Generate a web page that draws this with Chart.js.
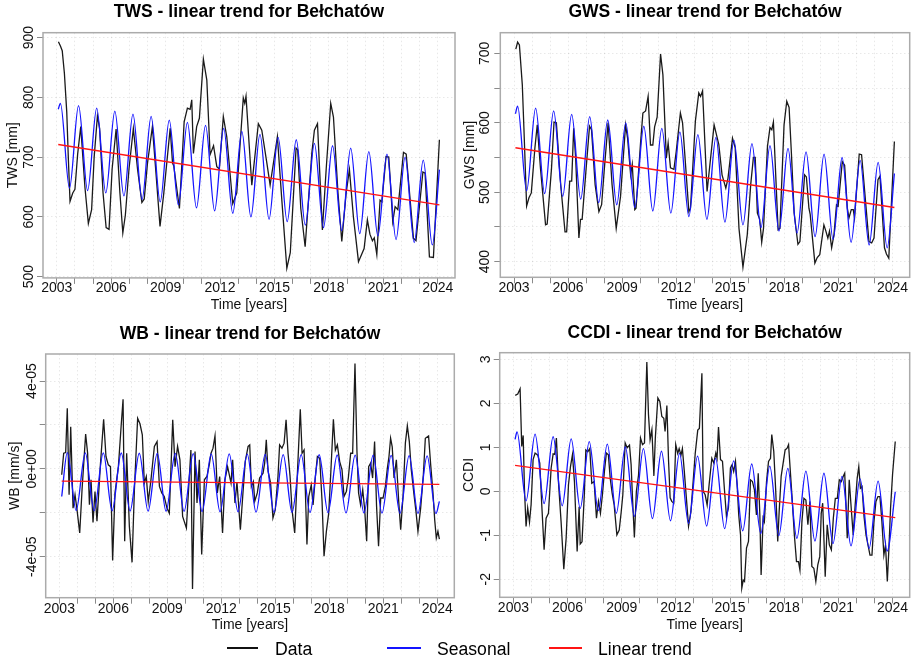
<!DOCTYPE html>
<html lang="en">
<head>
<meta charset="UTF-8">
<title>Linear trends for Bełchatów</title>
<script src="https://cdn.jsdelivr.net/npm/chart.js"></script>
<style>
  body { margin: 0; background: #fff; font-family: "Liberation Sans", Arial, sans-serif; }
  #page { position: relative; width: 916px; height: 664px; overflow: hidden; background: #fff; }
  canvas { position: absolute; }
  /* shared legend under the four panels */
  .key-line { position: absolute; height: 2px; }
  .key-text { position: absolute; font-size: 17.6px; line-height: 20px; color: #000; white-space: nowrap; }
</style>
</head>
<body>
<div id="page">
  <canvas id="tws" width="458" height="320" style="left:0;top:0"></canvas>
  <canvas id="gws" width="458" height="320" style="left:458px;top:0"></canvas>
  <canvas id="wb" width="458" height="320" style="left:0;top:320px"></canvas>
  <canvas id="ccdi" width="458" height="320" style="left:458px;top:320px"></canvas>

  <div class="key-line" style="left:227px;top:647px;width:31px;background:#111"></div>
  <div class="key-text" style="left:275px;top:639px">Data</div>
  <div class="key-line" style="left:387px;top:647px;width:34px;background:#1414ff"></div>
  <div class="key-text" style="left:437px;top:639px">Seasonal</div>
  <div class="key-line" style="left:549px;top:647px;width:33px;background:#ff1414"></div>
  <div class="key-text" style="left:598px;top:639px">Linear trend</div>
</div>

<script>
// x axis: one tick per year, labels every third year
const yearTicks = [2003, 2004, 2005, 2006, 2007, 2008, 2009, 2010, 2011, 2012, 2013,
  2014, 2015, 2016, 2017, 2018, 2019, 2020, 2021, 2022, 2023, 2024];
const labelledYears = [2003, 2006, 2009, 2012, 2015, 2018, 2021, 2024];

// y ticks per panel
const twsTicks = [500, 600, 700, 800, 900];
const twsTickLabels = ['500', '600', '700', '800', '900'];
const gwsTicks = [400, 450, 500, 550, 600, 650, 700];
const gwsTickLabels = ['400', '', '500', '', '600', '', '700'];
const wbTicks = [-4e-5, -2e-5, 0, 2e-5, 4e-5];
const wbTickLabels = ['-4e-05', '', '0e+00', '', '4e-05'];
const ccdiTicks = [-2, -1, 0, 1, 2, 3];
const ccdiTickLabels = ['-2', '-1', '0', '1', '2', '3'];

// TWS [mm] : [decimal year, value]
const twsData = [[2003.09,893],[2003.2,886],[2003.3,878],[2003.42,840],[2003.55,775],[2003.64,695],[2003.73,626],[2003.88,640],[2004.0,646],[2004.15,705],[2004.32,751],[2004.55,650],[2004.74,589],[2004.92,612],[2005.06,700],[2005.24,769],[2005.36,748],[2005.55,640],[2005.72,582],[2005.88,579],[2006.05,680],[2006.27,747],[2006.48,640],[2006.64,573],[2006.78,603],[2006.98,680],[2007.22,748],[2007.45,680],[2007.69,624],[2007.82,630],[2008.0,690],[2008.27,751],[2008.5,660],[2008.69,584],[2008.9,640],[2009.25,748],[2009.38,690],[2009.45,685],[2009.76,614],[2009.88,680],[2010.02,759],[2010.2,782],[2010.35,780],[2010.44,796],[2010.53,706],[2010.71,751],[2010.86,765],[2011.08,864],[2011.27,829],[2011.45,704],[2011.64,719],[2011.82,684],[2011.96,680],[2012.18,768],[2012.37,734],[2012.7,622],[2012.92,640],[2013.28,799],[2013.36,790],[2013.43,802],[2013.75,653],[2014.11,756],[2014.3,745],[2014.58,690],[2014.76,653],[2015.16,734],[2015.4,630],[2015.68,514],[2015.87,540],[2016.19,715],[2016.28,712],[2016.45,614],[2016.69,550],[2017.06,707],[2017.2,745],[2017.37,756],[2017.64,578],[2017.85,680],[2018.1,790],[2018.25,767],[2018.5,640],[2018.71,559],[2018.95,640],[2019.13,679],[2019.35,600],[2019.63,525],[2019.94,547],[2020.12,595],[2020.26,571],[2020.4,560],[2020.5,565],[2020.64,537],[2020.82,628],[2020.92,625],[2021.15,701],[2021.3,700],[2021.52,592],[2021.65,617],[2021.8,612],[2022.11,708],[2022.26,705],[2022.66,564],[2022.8,560],[2023.18,675],[2023.3,673],[2023.54,533],[2023.76,532],[2024.09,729]];
const twsSeasonal = [[2003.08,780],[2003.2,790],[2003.7,648],[2004.2,786],[2004.7,644],[2005.2,782],[2005.7,640],[2006.2,777],[2006.7,635],[2007.2,772],[2007.7,629],[2008.2,768],[2008.7,625],[2009.2,762],[2009.7,620],[2010.2,758],[2010.7,615],[2011.2,753],[2011.7,610],[2012.2,748],[2012.7,606],[2013.2,743],[2013.7,600],[2014.2,738],[2014.7,596],[2015.2,733],[2015.7,592],[2016.2,729],[2016.7,586],[2017.2,723],[2017.7,582],[2018.2,719],[2018.7,577],[2019.2,715],[2019.7,572],[2020.2,709],[2020.7,568],[2021.2,705],[2021.7,562],[2022.2,700],[2022.7,557],[2023.2,695],[2023.7,553],[2024.09,679]];
const twsTrend = [[2003.08,721],[2024.09,620]];

// GWS [mm]
const gwsData = [[2003.1,706],[2003.2,716],[2003.3,712],[2003.46,655],[2003.55,592],[2003.7,480],[2003.83,492],[2003.96,499],[2004.16,564],[2004.29,597],[2004.47,534],[2004.75,453],[2004.84,454],[2005.08,534],[2005.22,601],[2005.35,600],[2005.59,511],[2005.83,443],[2005.92,443],[2006.09,516],[2006.2,516],[2006.31,592],[2006.42,549],[2006.6,434],[2006.69,461],[2006.78,461],[2007.0,534],[2007.19,595],[2007.3,590],[2007.5,511],[2007.71,472],[2007.86,482],[2008.0,530],[2008.22,600],[2008.44,511],[2008.67,448],[2008.91,494],[2009.19,597],[2009.3,578],[2009.47,525],[2009.56,540],[2009.7,475],[2009.77,477],[2010.02,571],[2010.15,614],[2010.3,617],[2010.44,638],[2010.57,568],[2010.7,568],[2010.8,594],[2010.94,608],[2011.13,699],[2011.26,669],[2011.45,549],[2011.55,571],[2011.68,535],[2011.87,533],[2012.0,559],[2012.23,614],[2012.35,600],[2012.7,472],[2012.79,477],[2013.06,602],[2013.25,643],[2013.35,638],[2013.46,646],[2013.71,501],[2014.1,597],[2014.23,583],[2014.36,569],[2014.54,525],[2014.75,506],[2014.87,520],[2015.12,578],[2015.27,564],[2015.48,448],[2015.7,392],[2015.94,439],[2016.13,511],[2016.28,550],[2016.38,550],[2016.5,470],[2016.63,461],[2016.74,428],[2016.84,448],[2017.06,566],[2017.2,593],[2017.3,590],[2017.39,601],[2017.65,446],[2017.75,448],[2017.98,597],[2018.13,631],[2018.26,622],[2018.39,555],[2018.54,470],[2018.75,425],[2018.86,429],[2019.12,525],[2019.22,522],[2019.36,477],[2019.43,468],[2019.69,398],[2019.82,406],[2019.96,410],[2020.19,453],[2020.3,444],[2020.41,434],[2020.5,444],[2020.62,420],[2020.75,439],[2020.89,482],[2020.98,480],[2021.21,544],[2021.34,539],[2021.49,477],[2021.58,463],[2021.71,475],[2021.82,475],[2021.89,463],[2022.15,555],[2022.28,554],[2022.5,487],[2022.69,429],[2022.84,427],[2022.97,434],[2023.19,518],[2023.3,523],[2023.55,420],[2023.66,411],[2023.79,405],[2024.1,573]];
const gwsSeasonal = [[2003.08,613],[2003.2,624],[2003.7,502],[2004.2,621],[2004.7,498],[2005.2,617],[2005.7,494],[2006.2,612],[2006.7,490],[2007.2,609],[2007.7,485],[2008.2,604],[2008.7,482],[2009.2,600],[2009.7,478],[2010.2,595],[2010.7,473],[2011.2,592],[2011.7,470],[2012.2,587],[2012.7,465],[2013.2,583],[2013.7,461],[2014.2,579],[2014.7,457],[2015.2,575],[2015.7,453],[2016.2,570],[2016.7,449],[2017.2,567],[2017.7,444],[2018.2,563],[2018.7,441],[2019.2,558],[2019.7,436],[2020.2,555],[2020.7,432],[2021.2,550],[2021.7,428],[2022.2,546],[2022.7,424],[2023.2,543],[2023.7,420],[2024.1,527]];
const gwsTrend = [[2003.08,564],[2024.1,478]];

// WB [mm/s], values in units of 1e-5
const wbUnit = 1e-5;
const wbData = [[2003.13,-0.27],[2003.24,0.71],[2003.35,0.74],[2003.44,2.76],[2003.54,-1.18],[2003.63,1.92],[2003.76,-1.79],[2003.87,-1.18],[2003.98,-1.86],[2004.13,-2.92],[2004.26,-0.95],[2004.46,1.58],[2004.57,0.71],[2004.67,-1.64],[2004.76,-0.5],[2004.87,-2.44],[2004.98,-1.03],[2005.09,-2.39],[2005.28,0.18],[2005.46,2.26],[2005.59,0.56],[2005.72,0.18],[2005.84,0.1],[2005.96,-4.17],[2006.09,-1.1],[2006.28,0.1],[2006.43,1.92],[2006.54,3.17],[2006.63,-3.3],[2006.74,0.71],[2006.89,-2.62],[2007.04,-4.26],[2007.17,-0.95],[2007.35,2.3],[2007.48,2.05],[2007.61,1.55],[2007.72,-0.65],[2007.83,-0.35],[2007.94,-1.5],[2008.09,-0.5],[2008.28,1.02],[2008.43,1.24],[2008.56,-0.8],[2008.69,-1.1],[2008.83,-1.26],[2008.98,-1.79],[2009.11,-2.02],[2009.3,2.23],[2009.43,0.1],[2009.57,1.02],[2009.7,0.41],[2009.85,-2.17],[2010.06,-2.7],[2010.18,-0.95],[2010.31,0.86],[2010.4,-5.47],[2010.54,0.79],[2010.65,-1.56],[2010.78,0.41],[2010.91,-3.9],[2011.06,-0.5],[2011.2,-0.35],[2011.33,0.18],[2011.43,0.71],[2011.54,0.94],[2011.65,1.5],[2011.78,-1.1],[2011.91,-0.35],[2012.07,-2.92],[2012.2,-0.5],[2012.35,0.1],[2012.54,-0.65],[2012.63,0.41],[2012.76,-1.56],[2012.87,-0.6],[2013.06,-2.77],[2013.19,-1.26],[2013.33,0.33],[2013.49,1.02],[2013.58,1.09],[2013.67,-0.8],[2013.78,-0.58],[2013.86,-1.48],[2014.0,-1.1],[2014.13,-0.42],[2014.32,-0.2],[2014.41,0.26],[2014.5,1.32],[2014.6,-0.12],[2014.74,-0.65],[2014.87,-2.24],[2015.0,-1.86],[2015.15,-0.35],[2015.24,1.09],[2015.37,0.94],[2015.49,1.17],[2015.6,2.23],[2015.71,0.71],[2015.82,-0.32],[2015.93,-1.86],[2016.08,-2.92],[2016.23,-0.2],[2016.39,2.71],[2016.49,0.71],[2016.6,0.86],[2016.67,-0.95],[2016.76,-3.45],[2016.86,-1.26],[2017.0,-0.73],[2017.1,-1.64],[2017.23,-0.35],[2017.34,0.56],[2017.47,0.48],[2017.6,-1.48],[2017.71,-3.98],[2017.84,-2.85],[2017.97,-2.02],[2018.08,-0.27],[2018.23,2.26],[2018.34,0.86],[2018.45,1.09],[2018.58,0.33],[2018.71,-0.05],[2018.82,-1.26],[2018.95,-1.03],[2019.06,-0.42],[2019.19,0.71],[2019.3,0.71],[2019.43,4.8],[2019.54,0.79],[2019.63,-1.1],[2019.74,-1.64],[2019.86,-0.95],[2019.97,-1.86],[2020.08,-3.3],[2020.19,0.1],[2020.3,0.26],[2020.41,-0.42],[2020.52,1.24],[2020.63,-1.71],[2020.74,-3.53],[2020.86,-1.33],[2020.99,-1.33],[2021.12,-0.8],[2021.23,0.03],[2021.32,0.56],[2021.41,1.39],[2021.5,1.0],[2021.6,-0.42],[2021.73,0.41],[2021.86,-1.48],[2021.97,-2.77],[2022.1,-1.26],[2022.23,1.17],[2022.34,1.95],[2022.45,1.24],[2022.56,-0.05],[2022.71,-1.18],[2022.82,-1.94],[2022.93,-2.85],[2023.08,-1.79],[2023.23,-0.27],[2023.34,1.39],[2023.52,1.5],[2023.63,0.26],[2023.76,-1.03],[2023.86,-2.32],[2023.95,-3.15],[2024.04,-2.85],[2024.12,-3.2]];
const wbSeasonal = [[2003.13,-1.26],[2003.44,0.74],[2003.93,-1.9],[2004.44,0.73],[2004.93,-1.91],[2005.44,0.73],[2005.93,-1.91],[2006.44,0.72],[2006.93,-1.92],[2007.44,0.71],[2007.93,-1.93],[2008.44,0.7],[2008.93,-1.93],[2009.44,0.7],[2009.93,-1.94],[2010.44,0.69],[2010.93,-1.95],[2011.44,0.68],[2011.93,-1.96],[2012.44,0.68],[2012.93,-1.96],[2013.44,0.67],[2013.93,-1.97],[2014.44,0.66],[2014.93,-1.98],[2015.44,0.65],[2015.93,-1.98],[2016.44,0.65],[2016.93,-1.99],[2017.44,0.64],[2017.93,-2.0],[2018.44,0.63],[2018.93,-2.01],[2019.44,0.62],[2019.93,-2.01],[2020.44,0.62],[2020.93,-2.02],[2021.44,0.61],[2021.93,-2.03],[2022.44,0.6],[2022.93,-2.03],[2023.44,0.59],[2023.93,-2.04],[2024.12,-1.48]];
const wbTrend = [[2003.13,-0.56],[2024.12,-0.71]];

// CCDI [-]
const ccdiData = [[2003.1,2.18],[2003.24,2.21],[2003.37,2.33],[2003.46,1.02],[2003.54,1.27],[2003.61,0.07],[2003.7,-0.8],[2003.79,-0.38],[2003.89,-0.7],[2003.98,-0.3],[2004.09,0.72],[2004.2,0.87],[2004.35,0.82],[2004.46,0.64],[2004.57,-0.31],[2004.7,-1.33],[2004.81,-0.61],[2004.94,-0.5],[2005.09,0.53],[2005.2,0.85],[2005.29,0.84],[2005.38,1.21],[2005.49,0.24],[2005.64,-0.69],[2005.79,-1.77],[2005.92,-1.07],[2006.05,0.15],[2006.16,0.56],[2006.27,0.83],[2006.38,0.22],[2006.53,-1.37],[2006.64,-0.35],[2006.7,-1.2],[2006.8,-1.15],[2006.93,-0.05],[2007.01,0.94],[2007.12,0.9],[2007.23,0.97],[2007.34,0.18],[2007.47,0.22],[2007.6,-0.61],[2007.71,-0.23],[2007.82,-0.5],[2007.93,-0.08],[2008.04,0.45],[2008.15,0.87],[2008.26,0.83],[2008.36,0.3],[2008.47,-0.05],[2008.58,-0.31],[2008.73,-0.99],[2008.86,-0.88],[2008.97,-0.47],[2009.06,-0.08],[2009.19,1.1],[2009.3,0.99],[2009.43,1.05],[2009.52,0.6],[2009.59,-0.1],[2009.7,-1.05],[2009.81,0.0],[2009.93,0.37],[2010.04,1.21],[2010.15,1.06],[2010.26,1.1],[2010.39,2.94],[2010.48,1.75],[2010.57,1.17],[2010.67,1.4],[2010.78,0.35],[2010.86,1.21],[2011.0,2.12],[2011.11,2.04],[2011.22,1.7],[2011.33,1.66],[2011.4,1.36],[2011.5,1.95],[2011.59,0.72],[2011.68,-0.15],[2011.77,-0.23],[2011.88,-0.27],[2011.99,1.06],[2012.1,0.86],[2012.18,0.97],[2012.28,0.82],[2012.36,0.97],[2012.46,0.48],[2012.7,-0.79],[2012.83,-0.47],[2013.07,0.86],[2013.21,1.39],[2013.3,1.43],[2013.44,2.68],[2013.51,0.0],[2013.62,-0.08],[2013.73,-0.31],[2013.84,0.15],[2013.99,0.75],[2014.1,0.64],[2014.21,0.87],[2014.28,0.75],[2014.36,1.46],[2014.47,0.72],[2014.58,0.68],[2014.69,0.03],[2014.8,-0.57],[2014.91,-0.38],[2015.02,0.53],[2015.11,0.6],[2015.2,0.45],[2015.3,0.68],[2015.39,0.15],[2015.48,-0.54],[2015.58,-0.99],[2015.65,-2.2],[2015.73,-2.02],[2015.8,-2.05],[2015.91,-1.29],[2016.02,-1.14],[2016.13,0.26],[2016.24,0.22],[2016.35,0.03],[2016.46,-0.54],[2016.56,0.41],[2016.65,-0.54],[2016.72,-1.9],[2016.83,-0.61],[2016.9,-0.69],[2017.02,0.22],[2017.13,0.68],[2017.24,0.75],[2017.31,1.29],[2017.42,0.91],[2017.53,0.0],[2017.64,-1.14],[2017.72,-0.46],[2017.83,0.34],[2017.94,0.64],[2018.05,0.94],[2018.16,0.98],[2018.24,1.06],[2018.35,0.38],[2018.46,-0.3],[2018.56,-0.99],[2018.68,-1.6],[2018.79,-1.6],[2018.87,-1.79],[2018.98,-0.69],[2019.09,-0.16],[2019.2,-0.2],[2019.31,-0.76],[2019.42,-0.23],[2019.53,-1.71],[2019.64,-1.75],[2019.75,-2.05],[2019.86,-1.67],[2019.97,-1.48],[2020.05,-0.5],[2020.13,-0.27],[2020.2,-1.1],[2020.27,-1.94],[2020.38,-0.76],[2020.5,-1.22],[2020.61,-1.33],[2020.72,-0.61],[2020.83,-0.16],[2020.94,-0.16],[2021.05,0.26],[2021.16,0.22],[2021.27,0.34],[2021.35,0.41],[2021.41,-0.2],[2021.49,-1.07],[2021.6,0.26],[2021.71,-0.38],[2021.82,-0.99],[2021.93,-0.31],[2022.04,0.29],[2022.13,0.56],[2022.22,0.07],[2022.31,0.11],[2022.42,-0.57],[2022.53,-0.99],[2022.64,-1.22],[2022.75,-1.45],[2022.86,-1.45],[2022.97,-0.69],[2023.08,-0.23],[2023.19,-0.12],[2023.3,-0.12],[2023.41,-0.69],[2023.52,-1.45],[2023.61,-1.22],[2023.71,-2.05],[2023.8,-1.29],[2023.89,-0.38],[2024.0,0.38],[2024.15,1.13]];
const ccdiSeasonal = [[2003.09,1.18],[2003.2,1.35],[2003.7,-0.22],[2004.2,1.3],[2004.7,-0.28],[2005.2,1.24],[2005.7,-0.33],[2006.2,1.19],[2006.7,-0.39],[2007.2,1.13],[2007.7,-0.44],[2008.2,1.07],[2008.7,-0.5],[2009.2,1.01],[2009.7,-0.57],[2010.2,0.97],[2010.7,-0.62],[2011.2,0.91],[2011.7,-0.67],[2012.2,0.86],[2012.7,-0.73],[2013.2,0.8],[2013.7,-0.79],[2014.2,0.75],[2014.7,-0.85],[2015.2,0.69],[2015.7,-0.9],[2016.2,0.62],[2016.7,-0.96],[2017.2,0.57],[2017.7,-1.01],[2018.2,0.52],[2018.7,-1.07],[2019.2,0.46],[2019.7,-1.13],[2020.2,0.41],[2020.7,-1.19],[2021.2,0.34],[2021.7,-1.24],[2022.2,0.28],[2022.7,-1.3],[2023.2,0.23],[2023.7,-1.36],[2024.15,-0.01]];
const ccdiTrend = [[2003.09,0.59],[2024.15,-0.6]];

Chart.defaults.font.family = "'Liberation Sans', Arial, Helvetica, sans-serif";
const ink = '#111111';

// grey frame round the plotting region
const plotBox = {
  id: 'plotBox',
  afterDatasetsDraw(chart) {
    const { ctx, chartArea: a } = chart;
    ctx.save();
    ctx.strokeStyle = '#ababab';
    ctx.lineWidth = 1.5;
    ctx.strokeRect(a.left, a.top, a.right - a.left, a.bottom - a.top);
    ctx.restore();
  }
};

function pts(pairs, k) {
  return pairs.map(p => ({ x: p[0], y: p[1] * k }));
}

function gridOpts() {
  return { color: 'rgba(0,0,0,0.09)', lineWidth: 1, tickLength: 6, tickColor: '#8a8a8a', tickWidth: 1, tickBorderDash: [] };
}

function drawPanel(id, p) {
  const k = p.k || 1;
  new Chart(document.getElementById(id), {
    type: 'line',
    data: {
      datasets: [
        { label: 'Linear trend', data: pts(p.trend, k), borderColor: '#ff1414', borderWidth: 1.4, pointRadius: 0 },
        { label: 'Seasonal', data: pts(p.seasonal, k), borderColor: '#1414ff', borderWidth: 1.3, pointRadius: 0, cubicInterpolationMode: 'monotone' },
        { label: 'Data', data: pts(p.data, k), borderColor: '#1a1a1a', borderWidth: 1.3, pointRadius: 0 }
      ]
    },
    options: {
      responsive: false,
      animation: false,
      devicePixelRatio: 1,
      events: [],
      layout: { padding: { left: 0, top: 0, bottom: 0, right: p.padRight } },
      plugins: {
        legend: { display: false },
        tooltip: { enabled: false },
        title: {
          display: true, text: p.title, fullSize: false, color: '#000',
          font: { size: 17.5, weight: 'bold' },
          padding: { top: p.titleTop, bottom: p.titleBottom }
        }
      },
      scales: {
        x: {
          type: 'linear', min: 2002.24, max: 2024.95, bounds: 'data',
          afterBuildTicks: s => { s.ticks = yearTicks.map(v => ({ value: v })); },
          afterFit: s => { s.height = p.xHeight; },
          ticks: {
            autoSkip: false, minRotation: 0, maxRotation: 0, padding: p.xTickPad,
            color: ink, font: { size: 14 },
            callback: v => labelledYears.includes(v) ? String(v) : ''
          },
          grid: gridOpts(),
          border: { display: false, dash: [1.5, 2.5] },
          title: { display: true, text: 'Time [years]', color: ink, font: { size: 14 }, padding: { top: 0, bottom: 6.6 } }
        },
        y: {
          type: 'linear', min: p.yMin, max: p.yMax, bounds: 'data',
          afterBuildTicks: s => { s.ticks = p.yTicks.map(v => ({ value: v })); },
          afterFit: s => { s.width = p.yWidth; },
          ticks: {
            autoSkip: false, minRotation: 90, maxRotation: 90, crossAlign: 'center',
            padding: p.yTickPad, color: ink, font: { size: 14 },
            callback: (v, i) => p.yLabels[i]
          },
          grid: gridOpts(),
          border: { display: false, dash: [1.5, 2.5] },
          title: { display: true, text: p.yTitle, color: ink, font: { size: 14 }, padding: { top: p.yTitlePad, bottom: 0 } }
        }
      }
    },
    plugins: [plotBox]
  });
}

drawPanel('tws', {
  title: 'TWS - linear trend for Bełchatów', yTitle: 'TWS [mm]',
  data: twsData, seasonal: twsSeasonal, trend: twsTrend,
  yMin: 497.8, yMax: 908.2, yTicks: twsTicks, yLabels: twsTickLabels,
  padRight: 3, yWidth: 43, titleTop: 1.8, titleBottom: 9.9, xHeight: 42.1,
  xTickPad: -4.0, yTickPad: -4.2, yTitlePad: 4.3
});

drawPanel('gws', {
  title: 'GWS - linear trend for Bełchatów', yTitle: 'GWS [mm]',
  data: gwsData, seasonal: gwsSeasonal, trend: gwsTrend,
  yMin: 377.5, yMax: 729.7, yTicks: gwsTicks, yLabels: gwsTickLabels,
  padRight: 6.3, yWidth: 42.3, titleTop: 1.8, titleBottom: 9.9, xHeight: 42.7,
  xTickPad: -3.4, yTickPad: -2.9, yTitlePad: 3.3
});

drawPanel('wb', {
  title: 'WB - linear trend for Bełchatów', yTitle: 'WB [mm/s]', k: wbUnit,
  data: wbData, seasonal: wbSeasonal, trend: wbTrend,
  yMin: -5.87e-5, yMax: 5.23e-5, yTicks: wbTicks, yLabels: wbTickLabels,
  padRight: 3.7, yWidth: 45.7, titleTop: 3.5, titleBottom: 9.5, xHeight: 42.3,
  xTickPad: -2.8, yTickPad: -12.2, yTitlePad: 6.6
});

drawPanel('ccdi', {
  title: 'CCDI - linear trend for Bełchatów', yTitle: 'CCDI',
  data: ccdiData, seasonal: ccdiSeasonal, trend: ccdiTrend,
  yMin: -2.41, yMax: 3.15, yTicks: ccdiTicks, yLabels: ccdiTickLabels,
  padRight: 6.3, yWidth: 41.7, titleTop: 2.2, titleBottom: 9.5, xHeight: 42.7,
  xTickPad: -3.4, yTickPad: 1.2, yTitlePad: 2.3
});
</script>
</body>
</html>
